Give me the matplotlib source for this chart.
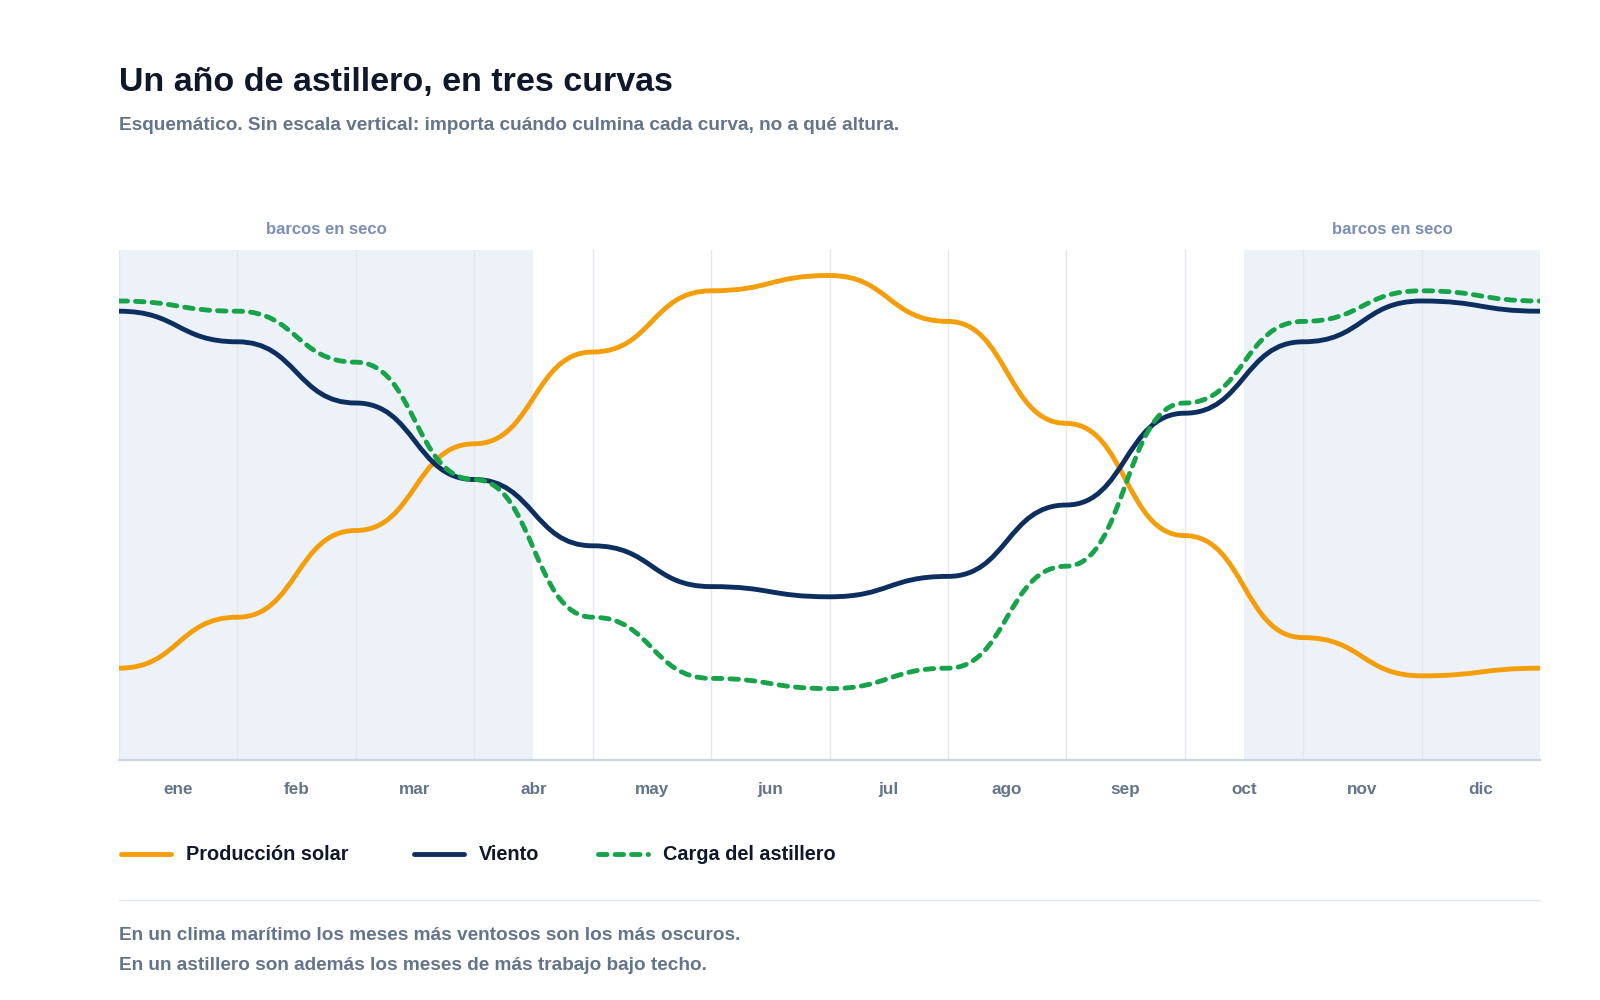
import matplotlib.pyplot as plt
from matplotlib.path import Path
from matplotlib.patches import PathPatch
from matplotlib.lines import Line2D

plt.rcParams['font.family'] = ['Liberation Sans', 'DejaVu Sans']

# Datos (esquemáticos, sin escala vertical)
meses = ["ene", "feb", "mar", "abr", "may", "jun", "jul", "ago", "sep", "oct", "nov", "dic"]
pos = list(range(13))
solar = [18, 28, 45, 62, 80, 92, 95, 86, 66, 44, 24, 16.5, 18]
viento = [88, 82, 70, 55, 42, 34, 32, 36, 50, 68, 82, 90, 88]
carga = [90, 88, 78, 55, 28, 16, 14, 18, 38, 70, 86, 92, 90]
en_seco = [(0, 3.5), (9.5, 12)]

C_SOLAR = "#f59e0b"
C_VIENTO = "#0c2f5f"
C_CARGA = "#16a34a"
C_TEXTO = "#0f172a"
C_GRIS = "#64748b"
LW = 3.5
GUION = (0, (1.75, 1.65))


def curva_bump(xs, ys):
    # curva tipo "bump": tangente horizontal en cada punto
    verts = [(xs[0], ys[0])]
    codes = [Path.MOVETO]
    for i in range(len(xs) - 1):
        xm = (xs[i] + xs[i + 1]) / 2
        verts += [(xm, ys[i]), (xm, ys[i + 1]), (xs[i + 1], ys[i + 1])]
        codes += [Path.CURVE4] * 3
    return Path(verts, codes)


fig = plt.figure(figsize=(16, 10), dpi=100)
ax = fig.add_axes([119 / 1600, 0.24, 1421 / 1600, 0.51])
ax.set_xlim(0, 12)
ax.set_ylim(0, 100)

for a, b in en_seco:
    ax.axvspan(a, b, color="#edf2f8", lw=0, zorder=0)
    ax.text((a + b) / 2, 1.025, "barcos en seco", transform=ax.get_xaxis_transform(),
            ha="center", va="bottom", fontsize=12, fontweight="bold", color="#7a8fb6")

for x in pos:
    ax.axvline(x, color="#e2e8f0", lw=1, zorder=1)

ax.add_patch(PathPatch(curva_bump(pos, solar), fill=False, ec=C_SOLAR, lw=LW,
                       capstyle="round", zorder=3))
ax.add_patch(PathPatch(curva_bump(pos, viento), fill=False, ec=C_VIENTO, lw=LW,
                       capstyle="round", zorder=4))
ax.add_patch(PathPatch(curva_bump(pos, carga), fill=False, ec=C_CARGA, lw=LW,
                       ls=GUION, capstyle="round", zorder=5))

for s in ["top", "left", "right"]:
    ax.spines[s].set_visible(False)
ax.spines["bottom"].set_color("#cbd5e1")
ax.spines["bottom"].set_linewidth(1.6)
ax.set_yticks([])
ax.set_xticks([i + 0.5 for i in range(12)])
ax.set_xticklabels(meses, fontsize=12.3, fontweight="bold", color=C_GRIS)
ax.tick_params(axis="x", length=0, pad=16)

# Título y subtítulo
fig.text(119 / 1600, 1 - 83 / 1000, "Un año de astillero, en tres curvas", fontsize=24.5,
         fontweight="bold", color=C_TEXTO, va="center")
fig.text(119 / 1600, 1 - 126 / 1000,
         "Esquemático. Sin escala vertical: importa cuándo culmina cada curva, no a qué altura.",
         fontsize=13.7, fontweight="bold", color=C_GRIS, va="center")

# Leyenda
ly = 1 - 854 / 1000
items = [(119, C_SOLAR, "-", "Producción solar"), (412, C_VIENTO, "-", "Viento"),
         (596, C_CARGA, GUION, "Carga del astillero")]
for x0, c, ls, lab in items:
    fig.add_artist(Line2D([(x0 + 2) / 1600, (x0 + 52) / 1600], [ly, ly], color=c, lw=LW, ls=ls,
                          solid_capstyle="round", dash_capstyle="round"))
    fig.text((x0 + 67) / 1600, ly, lab, fontsize=14.3, fontweight="bold", color=C_TEXTO,
             va="center")

fig.add_artist(Line2D([119 / 1600, 1540 / 1600], [0.1, 0.1], color="#e2e8f0", lw=1))
fig.text(119 / 1600, 1 - 936 / 1000,
         "En un clima marítimo los meses más ventosos son los más oscuros.",
         fontsize=13.7, fontweight="bold", color=C_GRIS, va="center")
fig.text(119 / 1600, 1 - 965 / 1000,
         "En un astillero son además los meses de más trabajo bajo techo.",
         fontsize=13.7, fontweight="bold", color=C_GRIS, va="center")

fig.savefig("out.png", dpi=100, facecolor="white")
